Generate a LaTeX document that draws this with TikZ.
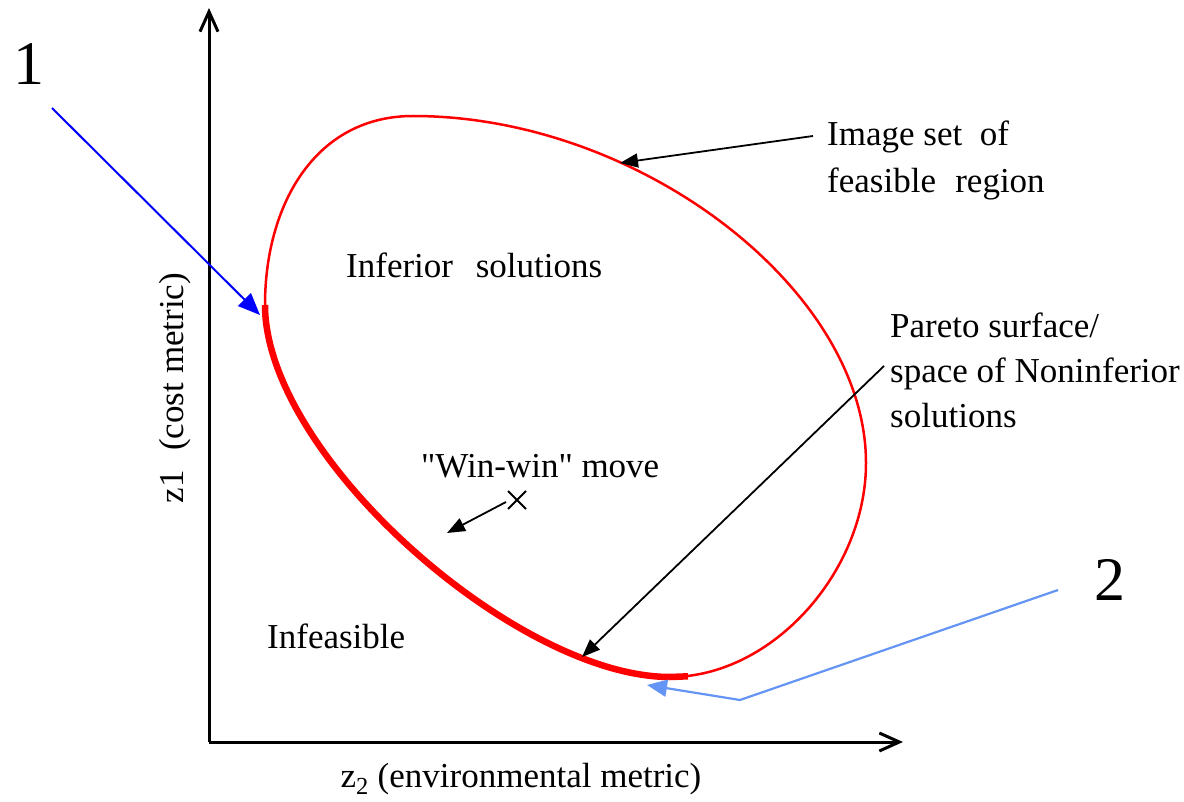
\documentclass[tikz,border=0pt]{standalone}
\usepackage{fontspec}
\setmainfont{Liberation Serif}
\newfontfamily\rawserif{Liberation Serif}
\usetikzlibrary{arrows.meta,calc}
\begin{document}
\begin{tikzpicture}[x=1pt,y=-1pt,
  lbl/.style={font=\fontsize{35}{46}\selectfont, inner sep=0pt, anchor=base west},
  big/.style={font=\fontsize{62}{62}\selectfont, inner sep=0pt, anchor=base},
  axisline/.style={line width=3pt, -{Straight Barb[length=20pt,width=18pt]}},
  blk/.style={line width=1.8pt, -{Triangle[length=18pt,width=14pt]}},
  blu/.style={line width=2pt, draw={rgb,255:red,0;green,0;blue,255}, -{Triangle[length=22pt,width=18pt]}},
  lblu/.style={line width=2.2pt, draw={rgb,255:red,100;green,149;blue,245}, -{Triangle[length=20pt,width=17pt]}},
  curve/.style={draw=red, line width=2.5pt},
  thick curve/.style={draw=red, line width=6.5pt},
]
\useasboundingbox (0,0) rectangle (1184,802);
% axes
\coordinate (O) at (209,742);
\coordinate (ytop) at (209,8);
\coordinate (xend) at (903,742);
\draw[axisline] (O) -- (ytop);
\draw[axisline] (O) -- (xend);
% feasible set boundary
\coordinate (L) at (265,305);
\coordinate (T) at (413,116);
\coordinate (R) at (866,463);
\coordinate (B) at (670,677);
\draw[curve] (L) .. controls (265,205) and (315,116) .. (T)
  .. controls (640,116) and (866,290) .. (R)
  .. controls (866,572) and (772,677) .. (B)
  .. controls (516,677) and (265,455) .. cycle;
\draw[thick curve] (L) .. controls (265,455) and (516,677) .. (B) -- (688,676.3);
% points on the curve
\coordinate (c1) at (260,315);
\coordinate (cimg) at (620,163);
\coordinate (cpar) at (582,657);
\coordinate (c2) at (647,685);
% labels
\node[big] (one) at (29,85) {1};
\node[big] (two) at (1110,600) {2};
\node[lbl] (img1) at (827,146) {Image set\hspace{0.25em} of};
\node[lbl] (img2) at (827,193) {feasible\hspace{0.3em} region};
\node[lbl] (inf) at (346,278) {Inferior\hspace{0.4em} solutions};
\node[lbl] (par1) at (890,338) {Pareto surface/};
\node[lbl] (par2) at (890,383) {space of Noninferior};
\node[lbl] (par3) at (890,428) {solutions};
\node[lbl] (win) at (421,477) {\rawserif "Win-win" move};
\node[lbl] (infs) at (267,648) {Infeasible};
\node[lbl, anchor=base] (xlab) at (521,787) {z\textsubscript{2} (environmental metric)};
\node[lbl, anchor=base, rotate=90] (ylab) at (183,388) {z1\hspace{0.3em} (cost metric)};
% connectors
\coordinate (s1) at (52,108);
\draw[blu] (s1) -- (c1);
\coordinate (simg) at (813,136);
\draw[blk] (simg) -- (cimg);
\coordinate (spar) at (884,366);
\draw[blk] (spar) -- (cpar);
\coordinate (xmark) at (517,500);
\draw[line width=1.8pt] ($(xmark)+(-9,-9)$) -- ($(xmark)+(9,9)$) ($(xmark)+(9,-9)$) -- ($(xmark)+(-9,9)$);
\coordinate (swin) at (506,502);
\coordinate (ewin) at (447,533);
\draw[blk] (swin) -- (ewin);
\coordinate (s2) at (1058,590);
\coordinate (v2) at (740,700);
\draw[lblu] (s2) -- (v2) -- (c2);
\end{tikzpicture}
\end{document}
